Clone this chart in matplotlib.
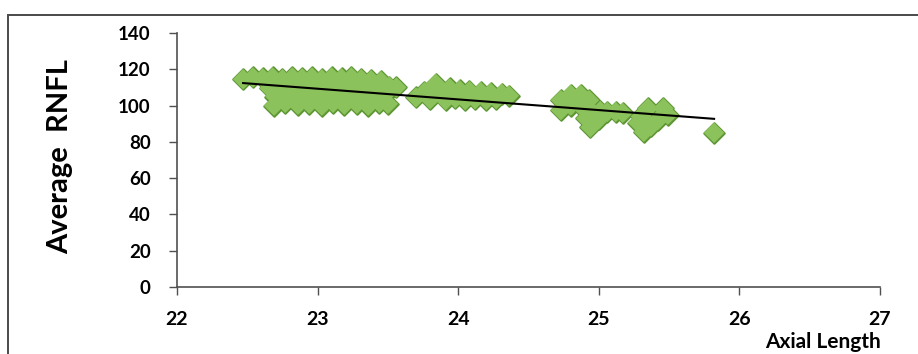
import numpy as np
import matplotlib
matplotlib.use("Agg")
import matplotlib.pyplot as plt
from matplotlib.patches import Rectangle

# Axial length (mm) and average RNFL thickness (um) per eye
axial_length = [
    # group around 22.5-23.5
    22.47, 22.54, 22.61, 22.68, 22.75, 22.82, 22.89, 22.96, 23.03, 23.10, 23.17, 23.24, 23.31,
    23.38, 23.45, 23.51,
    22.66, 22.73, 22.80, 22.87, 22.94, 23.01, 23.08, 23.15, 23.22, 23.29, 23.36, 23.43, 23.50, 23.56,
    22.70, 22.77, 22.84, 22.91, 22.98, 23.05, 23.12, 23.19, 23.26, 23.33, 23.40, 23.47,
    22.69, 22.77, 22.86, 22.94, 23.03, 23.11, 23.19, 23.28, 23.36, 23.44, 23.50,
    # group around 24
    23.70, 23.76, 23.80, 23.84, 23.87, 23.91, 23.94, 23.98, 24.01, 24.05, 24.08, 24.12,
    24.16, 24.20, 24.23, 24.27, 24.31, 24.36,
    # group around 25
    24.73, 24.73, 24.80, 24.80, 24.87, 24.87, 24.93, 24.94, 24.91, 24.94, 25.00, 25.01,
    25.06, 25.12, 25.17,
    25.35, 25.30, 25.28, 25.32, 25.37, 25.42, 25.46, 25.49,
    25.82,
]
avg_rnfl = [
    114.5, 115.5, 115.0, 115.5, 114.5, 115.5, 115.0, 115.5, 114.5, 115.5, 115.0, 115.5, 114.5,
    114.0, 113.5, 110.5,
    109.5, 110.5, 109.5, 110.5, 109.5, 110.5, 109.5, 110.5, 109.5, 110.5, 109.5, 110.5, 109.5, 110.0,
    105.0, 105.5, 105.0, 105.5, 105.0, 105.5, 105.0, 105.5, 105.0, 105.5, 105.0, 105.5,
    100.0, 101.5, 100.5, 101.0, 100.0, 101.5, 100.5, 101.0, 100.0, 101.5, 101.0,
    104.5, 107.5, 103.5, 112.0, 107.5, 103.0, 109.5, 104.0, 108.5, 103.0, 108.0, 103.5,
    107.5, 103.0, 107.0, 103.5, 106.5, 105.5,
    103.0, 97.5, 106.0, 100.0, 106.0, 100.0, 103.0, 97.5, 93.0, 88.0, 92.5, 97.0,
    96.5, 96.5, 96.0,
    98.5, 94.0, 90.5, 85.5, 88.5, 92.0, 98.5, 95.0,
    85.0,
]

x_ticks = [22, 23, 24, 25, 26, 27]
y_ticks = [0, 20, 40, 60, 80, 100, 120, 140]

font = ["Lato", "DejaVu Sans"]

fig = plt.figure(figsize=(9.18, 3.54), dpi=100)
fig.patch.set_facecolor("white")

# frame around the chart area
fig.add_artist(Rectangle((8 / 918, -0.2), 1.2, 1.2 - 15 / 354,
                         transform=fig.transFigure, fill=False,
                         edgecolor="#4a4a4a", linewidth=1.4))

ax = fig.add_axes([177 / 918, 1 - 287 / 354, (880 - 177) / 918, (287 - 33) / 354])

# outlined diamonds first, then plain fills on top so overlaps merge into blobs
ax.scatter(axial_length, avg_rnfl, marker="D", s=10.4 ** 2,
           facecolor="#8cc25c", edgecolor="#5e9634", linewidths=1.6, zorder=2)
ax.scatter(axial_length, avg_rnfl, marker="D", s=10.4 ** 2,
           facecolor="#8cc25c", edgecolor="none", linewidths=0, zorder=2.5)

# linear trend line over the range of the data
x = np.asarray(axial_length)
y = np.asarray(avg_rnfl)
slope, intercept = np.polyfit(x, y, 1)
xs = np.array([x.min(), x.max()])
ax.plot(xs, slope * xs + intercept, color="black", linewidth=1.5, zorder=3)

ax.set_xlim(22, 27)
ax.set_ylim(0, 140)
ax.set_xticks(x_ticks)
ax.set_yticks(y_ticks)
ax.set_xticklabels([str(t) for t in x_ticks], family=font, fontweight="bold", fontsize=14)
ax.set_yticklabels([str(t) for t in y_ticks], family=font, fontweight="bold", fontsize=13.5)

for side in ("top", "right"):
    ax.spines[side].set_visible(False)
for side in ("left", "bottom"):
    ax.spines[side].set_color("#505050")
    ax.spines[side].set_linewidth(1.2)
ax.tick_params(direction="out", length=6, width=1.0, color="#505050")
ax.tick_params(axis="x", pad=11)
ax.tick_params(axis="y", pad=13)

fig.text(60 / 918, 1 - 157 / 354, "Average  RNFL", rotation=90, ha="center", va="center",
         family=font, fontweight="bold", fontsize=21)
fig.text(881 / 918, 1 - 342 / 354, "Axial Length", ha="right", va="center",
         family=font, fontweight="bold", fontsize=15)

fig.savefig("out.png", dpi=100, facecolor="white")
